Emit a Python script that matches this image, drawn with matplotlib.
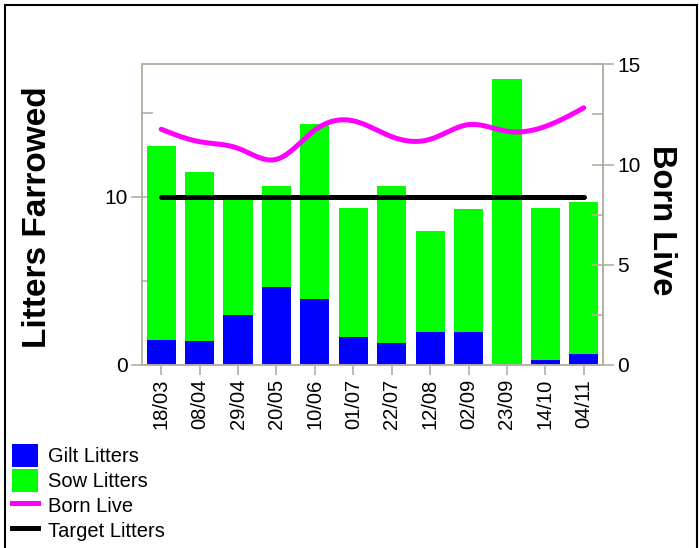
import numpy as np
import matplotlib
matplotlib.use("Agg")
import matplotlib.pyplot as plt
from matplotlib.patches import Patch, Rectangle
from matplotlib.lines import Line2D
from matplotlib.ticker import MultipleLocator

plt.rcParams['font.family'] = ['Liberation Sans', 'DejaVu Sans']

dates = ["18/03", "08/04", "29/04", "20/05", "10/06", "01/07",
         "22/07", "12/08", "02/09", "23/09", "14/10", "04/11"]
gilt_litters = [1.49, 1.43, 2.97, 4.63, 3.92, 1.68, 1.31, 1.96, 1.96, 0.0, 0.30, 0.65]
total_litters = [13.01, 11.47, 9.93, 10.64, 14.32, 9.33, 10.64, 7.96, 9.27, 16.99, 9.33, 9.69]
sow_litters = [t - g for t, g in zip(total_litters, gilt_litters)]
born_live = [11.76, 11.14, 10.81, 10.26, 11.72, 12.18, 11.39, 11.26, 11.99, 11.66, 11.9, 12.83]
target_litters = [10.0] * len(dates)

C_BLUE = "#0000FF"
C_GREEN = "#00FF00"
C_MAG = "#FF00FF"
C_AX = "#B4AEA4"


def natural_spline(x, y, n=400):
    x = np.asarray(x, float)
    y = np.asarray(y, float)
    m = len(x)
    h = np.diff(x)
    A = np.zeros((m, m))
    b = np.zeros(m)
    A[0, 0] = A[-1, -1] = 1
    for i in range(1, m - 1):
        A[i, i - 1] = h[i - 1]
        A[i, i] = 2 * (h[i - 1] + h[i])
        A[i, i + 1] = h[i]
        b[i] = 3 * ((y[i + 1] - y[i]) / h[i] - (y[i] - y[i - 1]) / h[i - 1])
    c = np.linalg.solve(A, b)
    xs = np.linspace(x[0], x[-1], n)
    ys = np.empty_like(xs)
    for k, xv in enumerate(xs):
        i = min(np.searchsorted(x, xv, side='right') - 1, m - 2)
        dx = xv - x[i]
        bi = (y[i + 1] - y[i]) / h[i] - h[i] * (2 * c[i] + c[i + 1]) / 3
        di = (c[i + 1] - c[i]) / (3 * h[i])
        ys[k] = y[i] + bi * dx + c[i] * dx ** 2 + di * dx ** 3
    return xs, ys


fig = plt.figure(figsize=(6.99, 5.48), dpi=100)
fig.patches.append(Rectangle((5 / 699, -0.01), 692 / 699, 1 - 4.5 / 548 + 0.01,
                             transform=fig.transFigure, fill=False,
                             edgecolor="black", linewidth=1.5, zorder=0))

ax = fig.add_axes([142 / 699, 1 - 365 / 548, (603 - 142) / 699, (365 - 64.3) / 548])
ax2 = ax.twinx()

x = np.arange(len(dates))
ax.bar(x, gilt_litters, width=0.76, color=C_BLUE, zorder=2)
ax.bar(x, sow_litters, bottom=gilt_litters, width=0.76, color=C_GREEN, zorder=2)
ax.plot(x, target_litters, color="black", linewidth=3.6, solid_capstyle="round", zorder=3)

xs, ys = natural_spline(x, born_live)
ax2.plot(xs, ys, color=C_MAG, linewidth=3.6, solid_capstyle="round", zorder=3)

ax.set_xlim(-0.5, len(dates) - 0.5)
ax.set_ylim(0, 17.87)
ax2.set_ylim(0, 15)

ax.set_xticks(x)
ax.set_xticklabels(dates, rotation=90, fontsize=14.5)
ax.yaxis.set_major_locator(MultipleLocator(10))
ax.yaxis.set_minor_locator(MultipleLocator(5))
ax2.yaxis.set_major_locator(MultipleLocator(5))
ax2.yaxis.set_minor_locator(MultipleLocator(2.5))

for a in (ax, ax2):
    for s in a.spines.values():
        s.set_color(C_AX)
        s.set_linewidth(1.2)
    a.tick_params(axis='y', which='major', direction='inout', length=16, width=1.2,
                  color=C_AX, labelsize=15, pad=2)
    a.tick_params(axis='y', which='minor', direction='in', length=8, width=1.2, color=C_AX)
ax.tick_params(axis='x', direction='out', length=7, width=1.2, color=C_AX, pad=3)

ax.set_ylabel("Litters Farrowed", fontsize=24, fontweight="bold")
ax.yaxis.set_label_coords(-0.194, 0.492)
ax2.set_ylabel("Born Live", fontsize=23.5, fontweight="bold", rotation=-90,
               va="center")
ax2.yaxis.set_label_coords(1.126, 0.48)

handles = [Patch(facecolor=C_BLUE, edgecolor="none"),
           Patch(facecolor=C_GREEN, edgecolor="none"),
           Line2D([], [], color=C_MAG, linewidth=3.6),
           Line2D([], [], color="black", linewidth=3.6)]
labels = ["Gilt Litters", "Sow Litters", "Born Live", "Target Litters"]
fig.legend(handles, labels, loc="upper left", bbox_to_anchor=(0.0, 1 - 432 / 548),
           frameon=False, fontsize=14.5, handlelength=1.3, handleheight=1.35,
           labelspacing=0.12, handletextpad=0.5, borderpad=0.3, borderaxespad=0.3)

fig.savefig("out.png", dpi=100)
